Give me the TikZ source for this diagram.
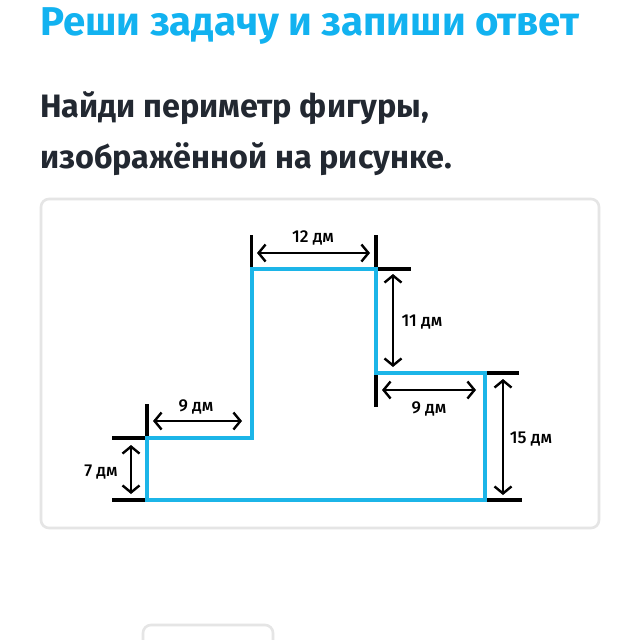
\documentclass[tikz,border=0pt]{standalone}
\usepackage{fontspec}
\setmainfont{Fira Sans}
\newfontfamily\labelfont{Fira Sans Medium}
\usetikzlibrary{arrows.meta}
\definecolor{titleblue}{RGB}{18, 178, 240}
\definecolor{darktext}{RGB}{34, 40, 49}
\definecolor{figureblue}{RGB}{28, 181, 232}
\definecolor{cardgray}{RGB}{229, 229, 229}
\tikzset{
    heading/.style={anchor=base west, inner sep=0pt, font=\bfseries\fontsize{40.2}{40}\selectfont, text=titleblue},
    question/.style={anchor=base west, inner sep=0pt, font=\bfseries\fontsize{32.4}{32}\selectfont, text=darktext},
    card/.style={draw=cardgray, line width=2.6pt, rounded corners=8pt},
    figureline/.style={draw=figureblue, line width=4pt, line join=miter},
    tick/.style={draw=black, line width=3.4pt},
    dimline/.style={draw=black, line width=2.4pt, {Straight Barb[length=7pt,width=17pt]}-{Straight Barb[length=7pt,width=17pt]}},
    dimlabel/.style={inner sep=0pt, font=\labelfont\fontsize{17.2}{18}\selectfont, text=black}
}

\begin{document}
\begin{tikzpicture}[x=1pt,y=-1pt]
    \useasboundingbox (0,0) rectangle (640,640);
    \fill[white] (0,0) rectangle (640,640);

    % texts above the card
    \node[heading] (title) at (40,35) {Реши задачу и запиши ответ};
    \node[question] (line1) at (40,117) {Найди периметр фигуры,};
    \node[question] (line2) at (40,168) {изображённой на рисунке.};

    % cards
    \draw[card] (41,199) rectangle (599,528);
    \draw[card] (143,641) -- (143,625) -- (273,625) -- (273,641);

    % corners of the figure
    \coordinate (bl) at (147,500);
    \coordinate (sl) at (147,438);
    \coordinate (sm) at (251.5,438);
    \coordinate (tl) at (251.5,269);
    \coordinate (tr) at (376,269);
    \coordinate (nk) at (376,373);
    \coordinate (ne) at (485,373);
    \coordinate (br) at (485,500);

    % free ends of the ticks
    \coordinate (tlup) at (251.5,235);
    \coordinate (trup) at (376,235);
    \coordinate (trout) at (411,269);
    \coordinate (nkdown) at (376,407);
    \coordinate (neout) at (519,373);
    \coordinate (brout) at (522,500);
    \coordinate (slup) at (147,404);
    \coordinate (slout) at (112,438);
    \coordinate (blout) at (112,500);

    \draw[tick] (tl) -- (tlup);
    \draw[tick] (tr) -- (trup);
    \draw[tick] (tr) -- (trout);
    \draw[tick] (nk) -- (nkdown);
    \draw[tick] (ne) -- (neout);
    \draw[tick] (br) -- (brout);
    \draw[tick] (sl) -- (slup);
    \draw[tick] (sl) -- (slout);
    \draw[tick] (bl) -- (blout);

    \draw[figureline] (bl) -- (sl) -- (sm) -- (tl) -- (tr) -- (nk) -- (ne) -- (br) -- cycle;

    % dimension arrows
    \coordinate (a1) at (257,253);
    \coordinate (a2) at (370,253);
    \coordinate (b1) at (393,274);
    \coordinate (b2) at (393,367);
    \coordinate (c1) at (382,390);
    \coordinate (c2) at (476,390);
    \coordinate (d1) at (503,379);
    \coordinate (d2) at (503,495);
    \coordinate (e1) at (153,421);
    \coordinate (e2) at (242,421);
    \coordinate (f1) at (131,445);
    \coordinate (f2) at (131,494);

    \draw[dimline] (a1) -- (a2);
    \draw[dimline] (b1) -- (b2);
    \draw[dimline] (c1) -- (c2);
    \draw[dimline] (d1) -- (d2);
    \draw[dimline] (e1) -- (e2);
    \draw[dimline] (f1) -- (f2);

    \node[dimlabel] (top) at (313,238) {12 дм};
    \node[dimlabel] (upper) at (422,322) {11 дм};
    \node[dimlabel] (lowstep) at (429,409) {9 дм};
    \node[dimlabel] (right) at (531,439) {15 дм};
    \node[dimlabel] (step) at (196,407) {9 дм};
    \node[dimlabel] (left) at (101,472) {7 дм};
\end{tikzpicture}
\end{document}
